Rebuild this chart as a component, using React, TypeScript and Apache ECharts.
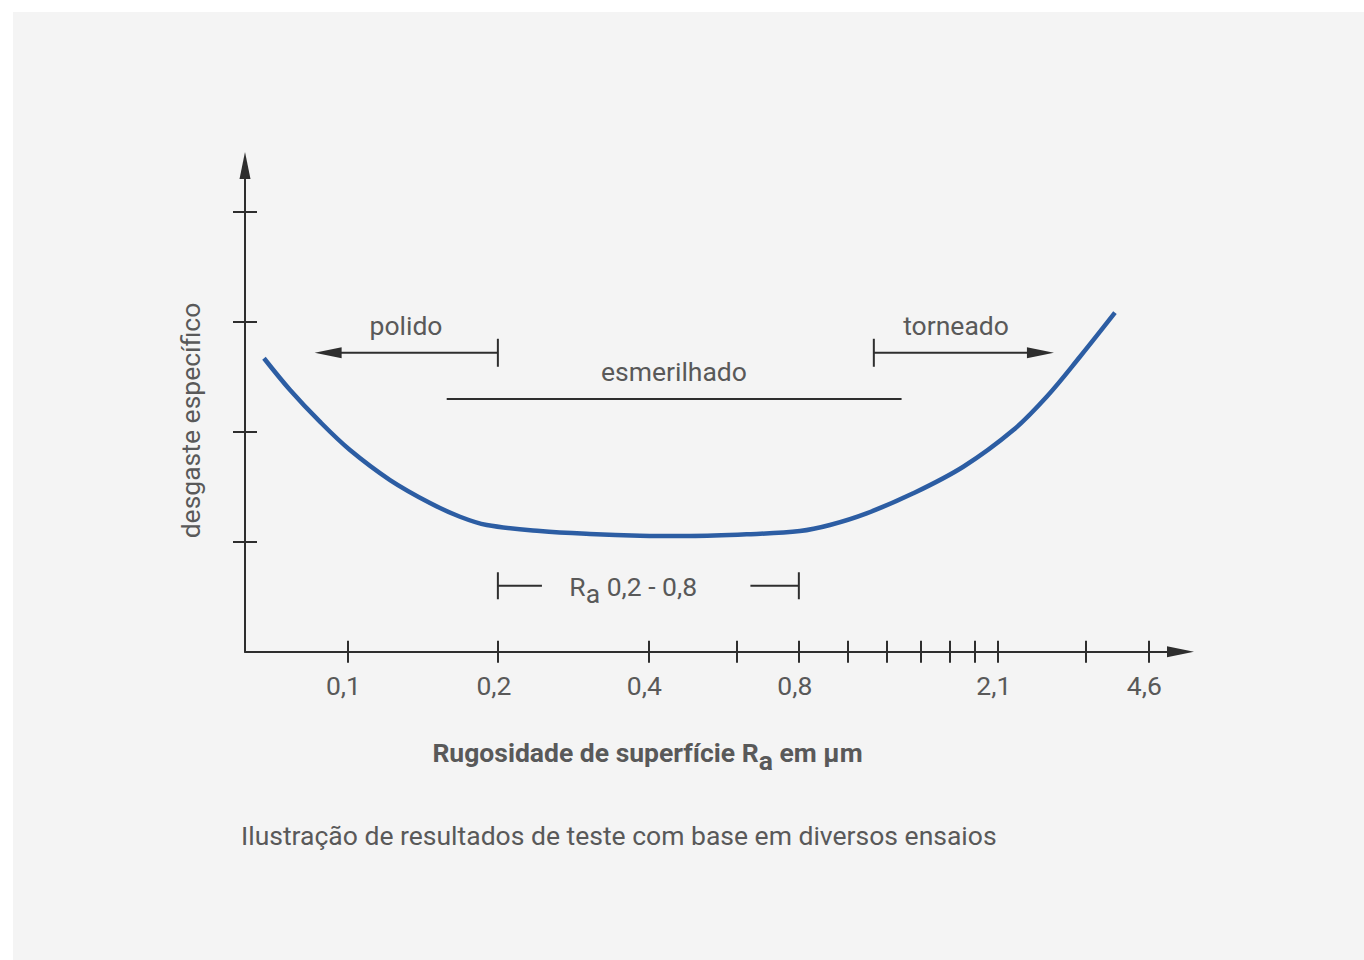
import React, { useEffect, useRef } from "react";
import * as echarts from "echarts";

// Axis ticks (surface roughness Ra in µm, logarithmic scale) and their printed labels
const raTickValues = [0.1, 0.2, 0.4, 0.6, 0.8, 1.0, 1.2, 1.4, 1.6, 1.8, 2.0, 3.0, 4.0];
const raLabelValues = [0.1, 0.2, 0.4, 0.8, 2.0, 4.0];
const raLabelTexts = ["0,1", "0,2", "0,4", "0,8", "2,1", "4,6"];
const wearTickValues = [1, 2, 3, 4];

// Wear curve
const curveRa = [
  0.0681, 0.0768, 0.0881, 0.1012, 0.1217, 0.1463, 0.168, 0.19, 0.2428, 0.3057, 0.3848,
  0.4845, 0.629, 0.804, 0.923, 1.093, 1.355, 1.706, 2.148, 2.505, 2.92, 3.431,
];
const curveWear = [
  2.67, 2.381, 2.093, 1.835, 1.562, 1.353, 1.228, 1.153, 1.098, 1.071, 1.056,
  1.053, 1.068, 1.098, 1.153, 1.259, 1.441, 1.683, 2.017, 2.32, 2.684, 3.085,
];

// Process ranges
const rangeNames = ["polido", "esmerilhado", "torneado"];
const rangeStart = [0.2, 0.158, 1.13];
const rangeEnd = [0.086, 1.284, 2.59];
const rangeLevel = [2.72, 2.3, 2.72];
const rangeLabelAt = [0.131, 0.45, 1.65];
const rangeHasArrow = [true, false, true];

// Ra 0,2 - 0,8 band
const raBandEnds = [0.2, 0.8];
const raBandGap = [0.245, 0.64];
const raBandLevel = 0.6;
const raBandLabelAt = 0.373;

const X_MIN = 0.0624;
const X_MAX = 4.64;
const Y_MIN = 0;
const Y_MAX = 4.424;

const FONT = "Roboto, 'Noto Sans', sans-serif";
const FS = 26.5;
const TEXT = "#595959";
const INK = "#2e2e2e";
const BLUE = "#2c5da3";

const lg = (v: number) => Math.log2(v);

function labelFor(v: number): string {
  let best = 0;
  let d = Infinity;
  raLabelValues.forEach((r, i) => {
    const dd = Math.abs(lg(r) - v);
    if (dd < d) {
      d = dd;
      best = i;
    }
  });
  return raLabelTexts[best];
}

function arrowHead(tipX: number, y: number, dir: number) {
  return {
    type: "polygon",
    shape: {
      points: [
        [tipX, y],
        [tipX - dir * 27, y - 5.5],
        [tipX - dir * 27, y + 5.5],
      ],
    },
    style: { fill: INK },
  };
}

function buildOption() {
  const xCommon = {
    type: "value",
    min: lg(X_MIN),
    max: lg(X_MAX),
    position: "bottom",
    splitLine: { show: false },
  };
  const yCommon = {
    type: "value",
    min: Y_MIN,
    max: Y_MAX,
    position: "left",
    splitLine: { show: false },
    axisLabel: { show: false },
  };
  return {
    animation: false,
    backgroundColor: "transparent",
    grid: {
      left: 245,
      top: 165.5,
      width: 935.5,
      height: 486.2,
      containLabel: false,
      outerBoundsMode: "none",
    },
    xAxis: [
      {
        ...xCommon,
        axisLine: {
          show: true,
          onZero: false,
          symbol: ["none", "triangle"],
          symbolSize: [11, 27],
          lineStyle: { color: INK, width: 2 },
        },
        axisTick: {
          show: true,
          inside: false,
          length: 11,
          customValues: raTickValues.map(lg),
          lineStyle: { color: INK, width: 2 },
        },
        axisLabel: {
          show: true,
          customValues: raLabelValues.map(lg),
          formatter: (v: number) => labelFor(v),
          margin: 20,
          color: TEXT,
          fontSize: FS,
          fontFamily: FONT,
          padding: [0, 8, 0, 0],
        },
      },
      {
        ...xCommon,
        axisLine: { show: false, onZero: false },
        axisTick: {
          show: true,
          inside: true,
          length: 11,
          customValues: raTickValues.map(lg),
          lineStyle: { color: INK, width: 2 },
        },
        axisLabel: { show: false },
      },
    ],
    yAxis: [
      {
        ...yCommon,
        axisLine: {
          show: true,
          onZero: false,
          symbol: ["none", "triangle"],
          symbolSize: [11, 27],
          lineStyle: { color: INK, width: 2 },
        },
        axisTick: {
          show: true,
          inside: false,
          length: 12,
          customValues: wearTickValues,
          lineStyle: { color: INK, width: 2 },
        },
      },
      {
        ...yCommon,
        axisLine: { show: false, onZero: false },
        axisTick: {
          show: true,
          inside: true,
          length: 12,
          customValues: wearTickValues,
          lineStyle: { color: INK, width: 2 },
        },
      },
    ],
    series: [
      {
        type: "line",
        xAxisIndex: 0,
        yAxisIndex: 0,
        data: curveRa.map((r, i) => [lg(r), curveWear[i]]),
        smooth: 0.35,
        showSymbol: false,
        symbol: "none",
        lineStyle: { color: BLUE, width: 4.5 },
        z: 3,
      },
      {
        type: "custom",
        xAxisIndex: 0,
        yAxisIndex: 0,
        data: rangeNames.map((_, i) => [lg(rangeStart[i]), rangeLevel[i], i]),
        encode: { x: 0, y: 1 },
        renderItem: (params: any, api: any) => {
          const i = api.value(2);
          const [x1, y] = api.coord([lg(rangeStart[i]), rangeLevel[i]]);
          const [x2] = api.coord([lg(rangeEnd[i]), rangeLevel[i]]);
          const [xl] = api.coord([lg(rangeLabelAt[i]), rangeLevel[i]]);
          const dir = x2 > x1 ? 1 : -1;
          const children: any[] = [];
          if (rangeHasArrow[i]) {
            children.push({
              type: "line",
              shape: { x1, y1: y - 14, x2: x1, y2: y + 14 },
              style: { stroke: INK, lineWidth: 2 },
            });
            children.push({
              type: "line",
              shape: { x1, y1: y, x2: x2 - dir * 20, y2: y },
              style: { stroke: INK, lineWidth: 2 },
            });
            children.push(arrowHead(x2, y, dir));
          } else {
            children.push({
              type: "line",
              shape: { x1, y1: y, x2, y2: y },
              style: { stroke: INK, lineWidth: 2 },
            });
          }
          children.push({
            type: "text",
            x: xl,
            y: y - 27,
            style: {
              text: rangeNames[i],
              fill: TEXT,
              fontSize: FS,
              fontFamily: FONT,
              align: "center",
              verticalAlign: "middle",
            },
          });
          return { type: "group", children };
        },
        z: 4,
      },
      {
        type: "custom",
        xAxisIndex: 0,
        yAxisIndex: 0,
        data: [[lg(raBandEnds[0]), raBandLevel]],
        encode: { x: 0, y: 1 },
        renderItem: (params: any, api: any) => {
          const [a, y] = api.coord([lg(raBandEnds[0]), raBandLevel]);
          const [b] = api.coord([lg(raBandEnds[1]), raBandLevel]);
          const [ga] = api.coord([lg(raBandGap[0]), raBandLevel]);
          const [gb] = api.coord([lg(raBandGap[1]), raBandLevel]);
          const [xl] = api.coord([lg(raBandLabelAt), raBandLevel]);
          const s = { stroke: INK, lineWidth: 2 };
          return {
            type: "group",
            children: [
              { type: "line", shape: { x1: a, y1: y - 13.5, x2: a, y2: y + 13.5 }, style: s },
              { type: "line", shape: { x1: a, y1: y, x2: ga, y2: y }, style: s },
              { type: "line", shape: { x1: gb, y1: y, x2: b, y2: y }, style: s },
              { type: "line", shape: { x1: b, y1: y - 13.5, x2: b, y2: y + 13.5 }, style: s },
              {
                type: "text",
                x: xl,
                y: y - 11,
                style: {
                  text: "{m|R}{s|a}{m| 0,2 - 0,8}",
                  align: "center",
                  verticalAlign: "top",
                  rich: {
                    m: { fill: TEXT, fontSize: FS, fontFamily: FONT, lineHeight: 24 },
                    s: { fill: TEXT, fontSize: FS, fontFamily: FONT, lineHeight: 24, padding: [14, 0, 0, 0] },
                  },
                },
              },
            ],
          };
        },
        z: 4,
      },
    ],
    graphic: [
      {
        type: "text",
        x: 190,
        y: 420.5,
        rotation: Math.PI / 2,
        style: {
          text: "desgaste específico",
          fill: TEXT,
          fontSize: FS,
          fontFamily: FONT,
          align: "center",
          verticalAlign: "middle",
        },
      },
      {
        type: "text",
        x: 647.5,
        y: 740,
        style: {
          text: "{b|Rugosidade de superfície R}{s|a}{b| em µm}",
          align: "center",
          verticalAlign: "top",
          rich: {
            b: { fill: TEXT, fontSize: FS, fontWeight: "bold", fontFamily: FONT, lineHeight: 24 },
            s: { fill: TEXT, fontSize: FS, fontWeight: "bold", fontFamily: FONT, lineHeight: 24, padding: [16, 0, 0, 0] },
          },
        },
      },
      {
        type: "text",
        x: 241,
        y: 835,
        style: {
          text: "Ilustração de resultados de teste com base em diversos ensaios",
          fill: TEXT,
          fontSize: FS,
          fontFamily: FONT,
          align: "left",
          verticalAlign: "middle",
        },
      },
    ],
  };
}

export default function App() {
  const ref = useRef<HTMLDivElement>(null);
  useEffect(() => {
    if (!ref.current) return;
    const chart = echarts.init(ref.current, null, { renderer: "svg" });
    chart.setOption(buildOption() as any);
    return () => chart.dispose();
  }, []);
  return (
    <div
      style={{
        position: "absolute",
        left: 0,
        top: 0,
        width: 1364,
        height: 960,
        background: "#ffffff",
        overflow: "hidden",
      }}
    >
      <div
        style={{
          position: "absolute",
          left: 13,
          top: 12,
          right: 0,
          bottom: 0,
          background: "#f4f4f4",
        }}
      />
      <div ref={ref} style={{ position: "absolute", left: 0, top: 0, width: 1364, height: 960 }} />
    </div>
  );
}
